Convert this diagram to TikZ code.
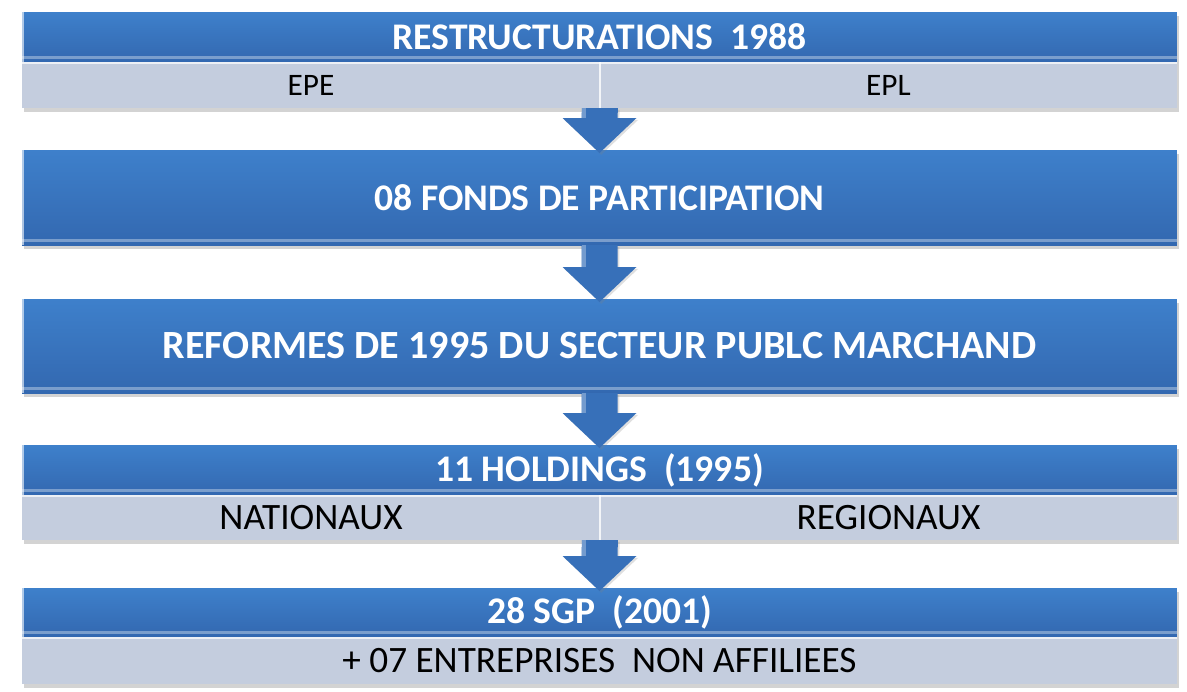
\documentclass[tikz,border=0pt]{standalone}
\usepackage{fontspec}
\setmainfont{Carlito}
\usetikzlibrary{calc,shadows}

\definecolor{hdrtop}{RGB}{62,128,203}
\definecolor{hdrbot}{RGB}{51,104,176}
\definecolor{barfill}{RGB}{196,205,222}
\definecolor{arrowblue}{RGB}{55,112,185}

\tikzset{
	hdr/.style={rectangle,inner sep=0pt,outer sep=0pt,minimum width=23.1cm,
		top color=hdrtop,bottom color=hdrbot,text=white,
		font=\fontsize{21.4}{25}\selectfont\bfseries,
		drop shadow={shadow xshift=1pt,shadow yshift=-2pt,opacity=0.35},
		path picture={
			\fill[white,opacity=0.35] ($(path picture bounding box.south west)+(0,-6)$) rectangle ($(path picture bounding box.south east)+(0,-3)$);
			\fill[white,opacity=0.6] (path picture bounding box.north west) rectangle ($(path picture bounding box.south west)+(2,0)$);
		}},
	cell/.style={rectangle,inner sep=0pt,outer sep=0pt,fill=barfill,text=black,
		font=\fontsize{21.2}{25}\selectfont,
		drop shadow={shadow xshift=1pt,shadow yshift=-2pt,opacity=0.35},
		path picture={
			\fill[white,opacity=0.7] (path picture bounding box.north west) rectangle ($(path picture bounding box.north east)+(0,2)$);
		}},
	split/.style={white,line width=1.2pt,opacity=0.8},
}

% fat down arrow between two blocks
\newcommand{\fatarrow}[2]{%
	\fill[arrowblue,drop shadow={shadow xshift=1pt,shadow yshift=-1pt,opacity=0.25}]
		($(#1)+(-18,0)$) -- ($(#2)+(-18,-32)$) -- ++(-19,0) -- ($(#2)+(0,3)$)
		-- ($(#2)+(37,-32)$) -- ++(-19,0) -- ($(#1)+(18,0)$) -- cycle;
	\fill[white,opacity=0.3] ($(#1)+(-18,0)$) rectangle ($(#2)+(-14,-32)$);
}

\begin{document}
\begin{tikzpicture}[x=0.02cm,y=-0.02cm]
	\useasboundingbox (0,0) rectangle (1187,691);

	% blocks
	\node[hdr,minimum height=1cm] (h1) at (599.5,37) {RESTRUCTURATIONS\ \ 1988};
	\node[cell,minimum width=11.56cm,minimum height=0.92cm,font=\fontsize{17.8}{21}\selectfont] (epe) at (311,85) {EPE};
	\node[cell,minimum width=11.54cm,minimum height=0.92cm,font=\fontsize{17.8}{21}\selectfont] (epl) at (888.5,85) {EPL};
	\draw[split] (epe.north east) -- (epe.south east);

	\node[hdr,minimum height=1.9cm] (h2) at (599.5,197.5) {08 FONDS DE PARTICIPATION};

	\node[hdr,minimum height=1.88cm,font=\fontsize{22.8}{27}\selectfont\bfseries] (h3) at (599.5,346) {REFORMES DE 1995 DU SECTEUR PUBLC MARCHAND};

	\node[hdr,minimum height=1cm] (h4) at (599.5,470) {11 HOLDINGS\ \ (1995)};
	\node[cell,minimum width=11.56cm,minimum height=0.9cm] (nat) at (311,517.5) {NATIONAUX};
	\node[cell,minimum width=11.54cm,minimum height=0.9cm] (reg) at (888.5,517.5) {REGIONAUX};
	\draw[split] (nat.north east) -- (nat.south east);

	\node[hdr,minimum height=0.98cm] (h5) at (599.5,612.5) {28 SGP\ \ (2001)};
	\node[cell,minimum width=23.1cm,minimum height=0.94cm] (ent) at (599.5,660.5) {+ 07 ENTREPRISES\ \ NON AFFILIEES};

	% arrows
	\fatarrow{epe.south east}{h2.north}
	\fatarrow{h2.south}{h3.north}
	\fatarrow{h3.south}{h4.north}
	\fatarrow{nat.south east}{h5.north}

\end{tikzpicture}
\end{document}
